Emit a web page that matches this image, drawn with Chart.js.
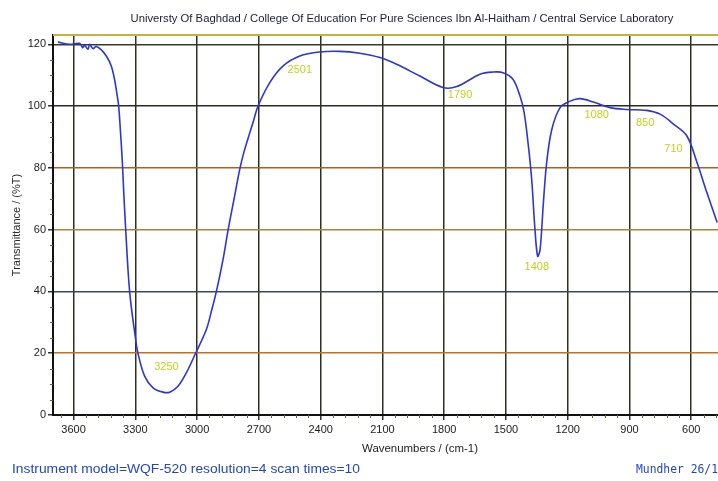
<!DOCTYPE html>
<html><head><meta charset="utf-8">
<script src="https://cdn.jsdelivr.net/npm/chart.js@4.4.0/dist/chart.umd.min.js"></script>
<style>html,body{margin:0;padding:0;background:#fff;overflow:hidden}#wrap{width:718px;height:481px;position:relative}canvas{display:block}</style>
</head><body><div id="wrap"><canvas id="c" width="718" height="481"></canvas></div>
<script>
// ---- data ----
const WAVENUMBERS = [3676,3619,3571,3555,3547,3530,3522,3506,3490,3465,
  3441,3417,3401,3388,3381,3373,3363,3357,3347,3328,
  3303,3287,3255,3214,3166,3133,3093,3052,3008,2955,
  2931,2906,2874,2849,2821,2793,2773,2744,2727,2704,
  2647,2582,2501,
  2404,2307,2210,2112,2031,1918,1806,1739,1626,1563,
  1514,1466,1432,1412,1391,1375,1359,1346,1334,1318,
  1302,1277,1237,1188,1140,1075,994,913,816,749,
  685,621,572,524,474];
const TRANSMITTANCE = [120.7,120.0,120.3,118.9,119.7,118.4,120.0,118.6,119.3,118.2,
  116.2,113.0,108.6,103.3,100.0,92.5,81.7,73.0,60.1,40.1,
  26.6,19.9,12.6,8.8,7.4,7.4,9.3,13.7,19.9,27.7,
  33.5,40.1,50.4,60.1,69.8,79.5,85.0,91.4,95.0,100.0,
  107.6,113.0,116.2,
  117.5,117.7,117.1,115.7,113.5,109.7,106.0,106.3,110.3,111.0,
  110.8,108.7,103.3,98.0,87.1,76.3,60.1,51.4,53.6,68.8,
  81.8,92.5,99.5,101.6,102.4,101.3,99.5,98.9,98.6,97.3,
  94.1,90.3,81.7,72.0,62.3];
const X_TICKS = [3600,3300,3000,2700,2400,2100,1800,1500,1200,900,600];
const Y_TICKS = [0,20,40,60,80,100,120];
const PEAK_LABELS = ['3250','2501','1790','1408','1080','850','710'];
const PEAK_LABEL_WN = [3149,2501,1723,1350,1059,824,686];
const PEAK_LABEL_T = [15.5,111.7,103.5,48.0,97.2,94.4,86.0];

const TITLE = 'Universty Of Baghdad / College Of Education For Pure Sciences Ibn Al-Haitham / Central Service Laboratory';
const X_TITLE = 'Wavenumbers / (cm-1)';
const Y_TITLE = 'Transmittance / (%T)';
const FOOT_LEFT = 'Instrument model=WQF-520 resolution=4 scan times=10';
const FOOT_RIGHT = 'Mundher 26/1';

// ---- styles ----
const HGRID_COLORS = ['#111111','#c0701e','#3c4a50','#b8802a','#b0601a','#2a2a22','#3a3a28'];
const SANS = '"Liberation Sans", Arial, sans-serif';

function fitText(ctx, txt, x, y, font, color, width, align){
  ctx.save();
  ctx.font = font; ctx.fillStyle = color; ctx.textBaseline = 'middle'; ctx.textAlign = 'left';
  const w = ctx.measureText(txt).width;
  const s = width ? width / w : 1;
  const left = align === 'center' ? x - (w*s)/2 : x;
  ctx.translate(left, y); ctx.scale(s, 1);
  ctx.fillText(txt, 0, 0);
  ctx.restore();
}

const decor = {
  id: 'decor',
  afterDraw(chart){
    const {ctx, chartArea: a, scales: {x, y}} = chart;
    ctx.save();
    // top frame line
    ctx.strokeStyle = '#c8b23c'; ctx.lineWidth = 2;
    ctx.beginPath(); ctx.moveTo(a.left, a.top); ctx.lineTo(a.right, a.top); ctx.stroke();
    // minor ticks
    ctx.strokeStyle = '#7a5a2a'; ctx.lineWidth = 1;
    for (let v = 3660; v >= x.min; v -= 60) {
      if (v % 300 === 0) continue;
      const px = Math.round(x.getPixelForValue(v)) + 0.5;
      ctx.beginPath(); ctx.moveTo(px, a.bottom); ctx.lineTo(px, a.bottom + 3); ctx.stroke();
    }
    for (let v = 5; v < y.max; v += 5) {
      if (v % 20 === 0) continue;
      const py = Math.round(y.getPixelForValue(v)) + 0.5;
      ctx.beginPath(); ctx.moveTo(a.left - 3, py); ctx.lineTo(a.left, py); ctx.stroke();
    }
    ctx.restore();
    // peak labels
    PEAK_LABELS.forEach((t, i) => {
      ctx.save();
      ctx.font = '11px ' + SANS; ctx.fillStyle = '#c4d21c';
      ctx.textAlign = 'center'; ctx.textBaseline = 'middle';
      ctx.fillText(t, x.getPixelForValue(PEAK_LABEL_WN[i]), y.getPixelForValue(PEAK_LABEL_T[i]));
      ctx.restore();
    });
    // texts
    fitText(ctx, TITLE, 402, 19, '11px ' + SANS, '#1c1c3c', 543, 'center');
    fitText(ctx, X_TITLE, 420, 449, '11px ' + SANS, '#222222', 116, 'center');
    fitText(ctx, FOOT_LEFT, 12, 470, '12px ' + SANS, '#2444c8', 348, 'left');
    fitText(ctx, FOOT_RIGHT, 636, 470, '12px "DejaVu Sans Mono", monospace', '#2444c8', 82, 'left');
  }
};

new Chart(document.getElementById('c'), {
  type: 'line',
  data: {
    datasets: [{
      data: WAVENUMBERS.map((w, i) => ({x: w, y: TRANSMITTANCE[i]})),
      borderColor: '#2b36d6',
      borderWidth: 1.6,
      pointRadius: 0,
      tension: 0.35,
      fill: false
    }]
  },
  options: {
    responsive: false,
    animation: false,
    devicePixelRatio: 1,
    layout: {padding: {top: 35, right: 0, left: 0, bottom: 0}},
    plugins: {legend: {display: false}, tooltip: {enabled: false}, title: {display: false}},
    scales: {
      x: {
        type: 'linear', reverse: true, min: 470, max: 3700,
        afterBuildTicks: s => { s.ticks = X_TICKS.map(v => ({value: v})); },
        afterFit: s => { s.height = 66; },
        ticks: {font: {size: 11, family: SANS}, color: '#222', padding: 3, maxRotation: 0, autoSkip: false,
                callback: v => String(v)},
        grid: {color: '#2e2e22', lineWidth: 1.5, tickLength: 5, tickColor: '#333'},
        border: {display: true, color: '#111', width: 2},
        title: {display: false}
      },
      y: {
        type: 'linear', min: 0, max: 123,
        afterBuildTicks: s => { s.ticks = Y_TICKS.map(v => ({value: v})); },
        afterFit: s => { s.width = 53; },
        ticks: {font: {size: 11, family: SANS}, color: '#222', padding: 2, callback: v => String(v)},
        grid: {color: c => HGRID_COLORS[c.index] || '#333', lineWidth: 1.5, tickLength: 5, tickColor: '#333'},
        border: {display: true, color: '#111', width: 2},
        title: {display: true, text: Y_TITLE, font: {size: 11, family: SANS}, color: '#2a2a2a', padding: {top: 10, bottom: 0}}
      }
    }
  },
  plugins: [decor]
});
</script>
</body></html>
